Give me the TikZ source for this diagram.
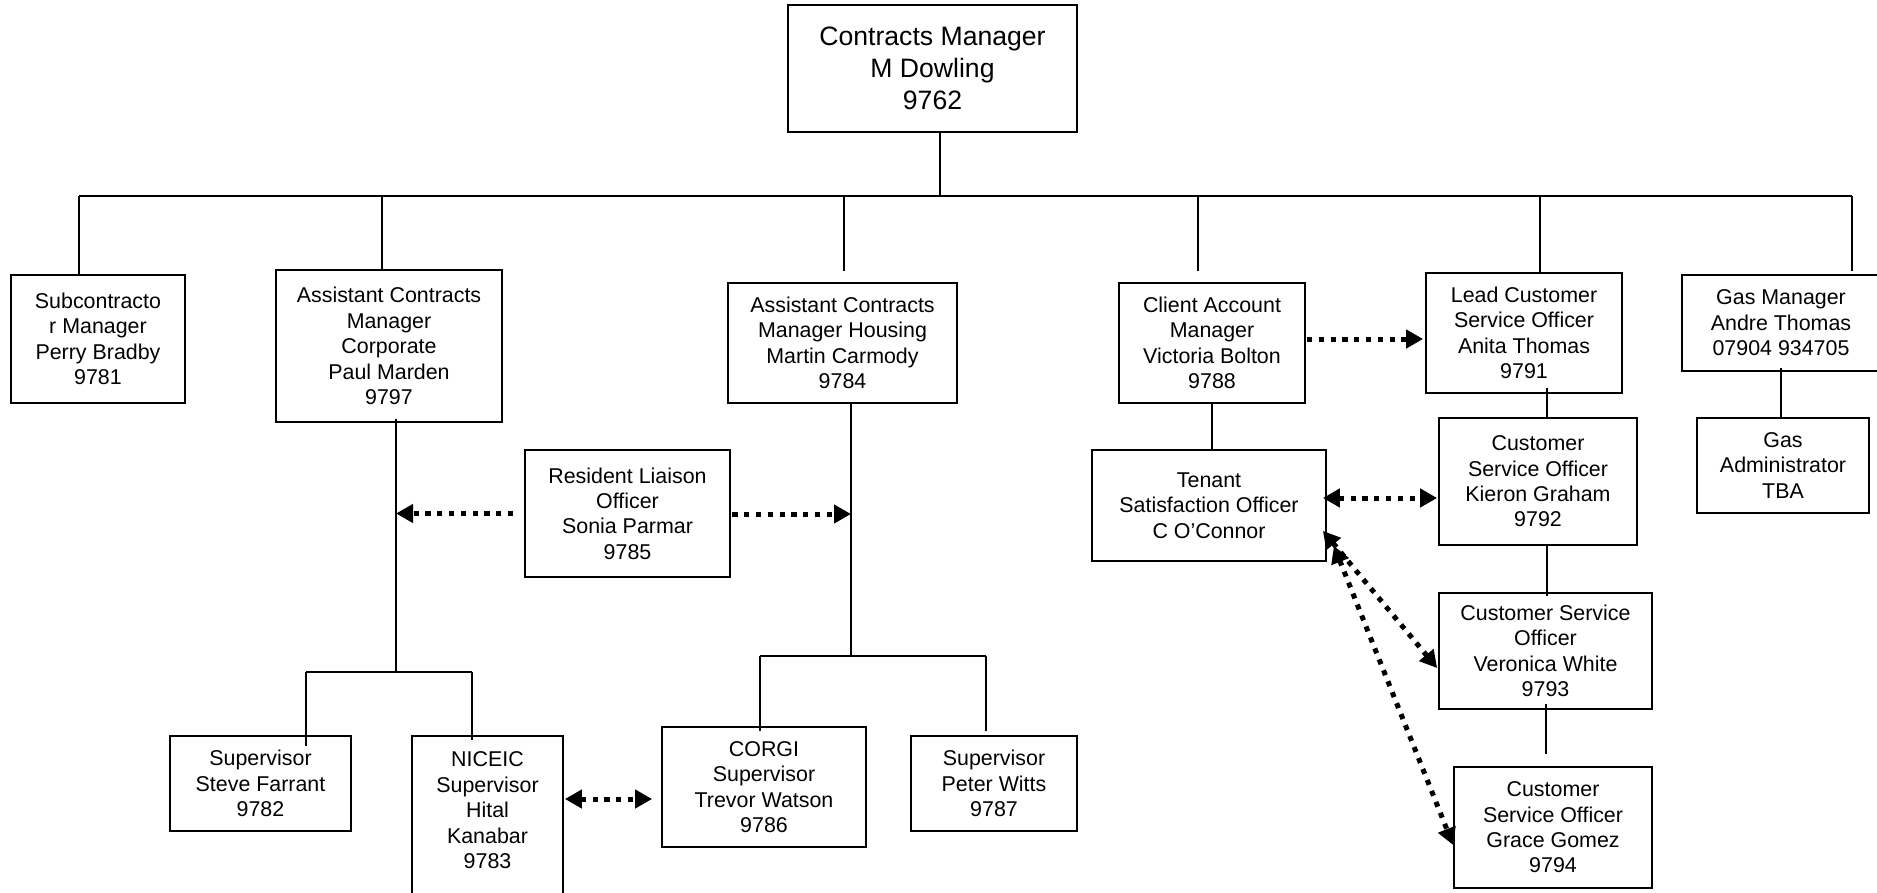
\documentclass[tikz,border=0pt]{standalone}
\usepackage{fontspec}
\setmainfont{Liberation Sans}
\usetikzlibrary{calc,arrows.meta}
\begin{document}
\begin{tikzpicture}[x=0.5pt,y=-0.5pt,
  box/.style={draw, line width=0.9pt, align=center, inner sep=0pt, font=\fontsize{10.7}{12.7}\selectfont},
  conn/.style={line width=0.95pt},
  bus/.style={line width=1.1pt},
  darrow/.style={line width=2.5pt, dash pattern=on 2.6pt off 3.3pt, {Triangle[length=8.5pt,width=9pt]}-{Triangle[length=8.5pt,width=9pt]}},
  sarrow/.style={line width=2.5pt, dash pattern=on 2.6pt off 3.3pt, -{Triangle[length=8.5pt,width=9pt]}}
]
\clip (0,0) rectangle (1877,893);
% boxes
\node[box, font=\fontsize{13.3}{16}\selectfont, minimum width=144.5pt, minimum height=63.5pt] (top) at (932.5,68.5) {Contracts Manager\\M Dowling\\9762};
\node[box, minimum width=87pt, minimum height=64pt] (sub) at (98,339) {Subcontracto\\r Manager\\Perry Bradby\\9781};
\node[box, minimum width=113pt, minimum height=76pt] (acmc) at (389,346) {Assistant Contracts\\Manager\\Corporate\\Paul Marden\\9797};
\node[box, minimum width=114.5pt, minimum height=60pt] (acmh) at (842.5,343) {Assistant Contracts\\Manager Housing\\Martin Carmody\\9784};
\node[box, minimum width=93pt, minimum height=60pt] (cam) at (1212,343) {Client Account\\Manager\\Victoria Bolton\\9788};
\node[box, minimum width=98pt, minimum height=60pt] (lcso) at (1524,333) {Lead Customer\\Service Officer\\Anita Thomas\\9791};
\node[box, minimum width=99pt, minimum height=48pt] (gasm) at (1781,323) {Gas Manager\\Andre Thomas\\07904 934705};
\node[box, minimum width=86pt, minimum height=47.5pt] (gasa) at (1783,465.5) {Gas\\Administrator\\TBA};
\node[box, minimum width=99pt, minimum height=63.5pt] (kie) at (1538,481.5) {Customer\\Service Officer\\Kieron Graham\\9792};
\node[box, minimum width=117pt, minimum height=55.5pt] (ten) at (1209,505.5) {Tenant\\Satisfaction Officer\\C O’Connor};
\node[box, minimum width=106.5pt, minimum height=58pt] (ver) at (1545.5,651) {Customer Service\\Officer\\Veronica White\\9793};
\node[box, minimum width=99pt, minimum height=60.5pt] (gra) at (1553,827.5) {Customer\\Service Officer\\Grace Gomez\\9794};
\node[box, minimum width=102.5pt, minimum height=63.5pt] (rlo) at (627.5,513.5) {Resident Liaison\\Officer\\Sonia Parmar\\9785};
\node[box, minimum width=90.5pt, minimum height=47.5pt] (steve) at (260.5,783.5) {Supervisor\\Steve Farrant\\9782};
\node[box, minimum width=75.5pt, minimum height=87pt] (nic) at (487.5,823) {NICEIC\\Supervisor\\Hital\\Kanabar\\9783\\\mbox{}};
\node[box, minimum width=102pt, minimum height=60pt] (corgi) at (764,787) {CORGI\\Supervisor\\Trevor Watson\\9786};
\node[box, minimum width=83pt, minimum height=47.5pt] (witts) at (994,783.5) {Supervisor\\Peter Witts\\9787};
% top level bus
\coordinate (d0) at (940,196);
\coordinate (busL) at (79,196);
\coordinate (busR) at (1852,196);
\coordinate (d2) at (382,196);
\coordinate (d3) at (844,196);
\coordinate (d4) at (1198,196);
\coordinate (d5) at (1540,196);
\draw[conn] ($(top.south)+(7.5,0)$) -- (d0);
\draw[bus] (busL) -- (busR);
\draw[conn] (busL) -- (busL |- sub.north);
\draw[conn] (d2) -- (d2 |- acmc.north);
\draw[conn] (d3) -- ($(d3 |- acmh.north)+(0,-11)$);
\draw[conn] (d4) -- ($(d4 |- cam.north)+(0,-11)$);
\draw[conn] (d5) -- (d5 |- lcso.north);
\draw[conn] (busR) -- ($(busR |- gasm.north)+(0,-3)$);
% corporate branch
\coordinate (cj) at (396,672);
\coordinate (cl) at (306,672);
\coordinate (cr) at (472,672);
\draw[conn] ($(acmc.south)+(7,-4)$) -- (cj);
\draw[conn] (cl) -- (cr);
\draw[conn] (cl) -- ($(cl |- steve.north)+(0,11)$);
\draw[conn] (cr) -- ($(cr |- nic.north)+(0,5)$);
% housing branch
\coordinate (hj) at (851,656);
\coordinate (hl) at (760,656);
\coordinate (hr) at (986,656);
\draw[conn] ($(acmh.south)+(8.5,0)$) -- (hj);
\draw[conn] (hl) -- (hr);
\draw[conn] (hl) -- ($(hl |- corgi.north)+(0,5)$);
\draw[conn] (hr) -- ($(hr |- witts.north)+(0,-4)$);
% customer side
\draw[conn] (cam.south) -- (cam.south |- ten.north);
\draw[conn] ($(lcso.south)+(23,-6)$) -- ($(kie.north)+(9,0)$);
\draw[conn] ($(kie.south)+(9,0)$) -- ($(ver.north)+(1.5,4)$);
\draw[conn] ($(ver.south)+(0.5,-6)$) -- ($(gra.north)+(-7,-12)$);
\draw[conn] ($(gasm.south)+(0,-4)$) -- (gasa.north -| gasm.south);
% dotted arrows
\draw[sarrow] ($(rlo.west)+(-11,0)$) -- (rlo.west -| cj);
\draw[sarrow] ($(rlo.east)+(1.5,0.5)$) -- ($(rlo.east -| hj)+(0,0.5)$);
\draw[sarrow] ($(cam.east)+(1,-4)$) -- ($(cam.east -| lcso.west)+(-2,-4)$);
\draw[darrow] ($(corgi.west -| nic.east)+(1,12)$) -- ($(corgi.west)+(-9,12)$);
\draw[darrow] ($(ten.east)+(-4,-7.5)$) -- ($(ten.east -| kie.west)+(-1,-7.5)$);
\draw[darrow] ($(ten.south east)+(-4,-31)$) -- ($(ver.west)+(-1,17)$);
\draw[darrow] ($(ten.south east)+(7,-16)$) -- ($(gra.west)+(0,17.5)$);
\end{tikzpicture}
\end{document}
